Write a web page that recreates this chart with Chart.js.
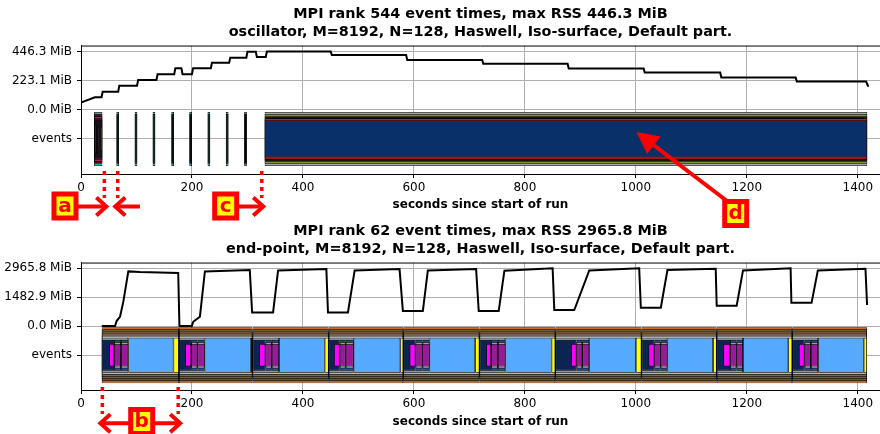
<!DOCTYPE html>
<html>
<head>
<meta charset="utf-8">
<script src="https://cdn.jsdelivr.net/npm/chart.js@4.4.1/dist/chart.umd.min.js"></script>
<style>
html, body { margin: 0; padding: 0; background: #fff; overflow: hidden; }
#wrap { position: relative; width: 880px; height: 434px; }
.panel { position: absolute; left: 0; width: 880px; height: 217px; }
#overlay { position: absolute; left: 0; top: 0; pointer-events: none; }
</style>
</head>
<body>
<div id="wrap">
  <div class="panel" style="top:0"><canvas id="c544" width="880" height="217"></canvas></div>
  <div class="panel" style="top:217px"><canvas id="c62" width="880" height="217"></canvas></div>
  <canvas id="overlay" width="880" height="434"></canvas>
</div>
<script>
// ---- rank 544 (oscillator) ----
var rss544 = 446.3;
var title544 = ['MPI rank 544 event times, max RSS 446.3 MiB',
                'oscillator, M=8192, N=128, Haswell, Iso-surface, Default part.'];
var tickVals544 = [-223.15, 0, 223.15, 446.3];
var tickLabels544 = ['events', '0.0 MiB', '223.1 MiB', '446.3 MiB'];
var memTime544 = [0,25,37,39,67,69,101,103,136,138,168,170,181,183,200,202,234,236,267,269,298,300,315,317,333,335,450,452,586,588,723,725,877,879,1014,1016,1152,1154,1288,1290,1415,1418,1420];
var memMiB544 = [55,96,96,138,138,184,184,227,227,272,272,317,317,272,272,317,317,360,360,398,398,444,444,403,403,446,446,418,418,380,380,351,351,315,315,285,285,247,247,217,217,184,184];
// events
var firstBlock544 = [23.6, 38.5];
var firstCols544 = [[24.5, 28.6], [29.5, 32.6], [34.4, 38.0]];
var colStart544 = [63.8, 96.7, 129.1, 162.8, 195.2, 228.1, 261.0, 294.1];
var colEnd544   = [68.6, 101.5, 133.9, 167.6, 200.0, 232.9, 265.8, 298.9];
var magStart544 = [65.4, 98.3, 130.7, 164.4, 196.8, 229.7, 262.6, 295.7];
var magEnd544   = [67.0, 99.9, 132.3, 166.0, 198.4, 231.3, 264.2, 297.3];
var bigBlock544 = [331, 1417];

// ---- rank 62 (end-point) ----
var rss62 = 2965.8;
var title62 = ['MPI rank 62 event times, max RSS 2965.8 MiB',
               'end-point, M=8192, N=128, Haswell, Iso-surface, Default part.'];
var tickVals62 = [-1482.9, 0, 1482.9, 2965.8];
var tickLabels62 = ['events', '0.0 MiB', '1482.9 MiB', '2965.8 MiB'];
var memTime62 = [37.4,61.4,64.4,70.3,76.3,85.3,106.3,175.2,177.4,199.9,202.2,214.3,217.3,223.3,304.2,308.4,346.2,355.2,442.2,445.1,481.1,493.2,574.1,580.1,616.1,625.1,712.1,716.8,752.8,763.1,850.0,853.0,889.0,916.0,1006.0,1009.0,1045.0,1056.9,1143.9,1145.7,1181.7,1193.1,1278.9,1280.3,1316.7,1328.0,1413.8,1416.7];
var memMiB62 = [20,20,280,485,1260,2810,2775,2723,15,20,230,490,1260,2810,2878,708,708,2862,2930,708,708,2862,2930,780,780,2862,2930,780,780,2847,2966,832,832,2862,2966,951,951,2878,2950,1054,1054,2862,2966,1209,1209,2862,2950,1090];
var cycleStart62  = [37.4, 176.5, 309.1, 446.4, 580.8, 718.1, 854.8, 1010.1, 1145.7, 1281.8];
var cycleEnd62    = [176.5, 309.1, 446.4, 580.8, 718.1, 854.8, 1010.1, 1145.7, 1281.8, 1416.7];
var magStart62    = [50.6, 187.8, 321.0, 455.9, 592.1, 730.1, 883.1, 1022.7, 1157.6, 1293.8];
var purpleStart62 = [59.6, 198.6, 332.5, 466.2, 602.9, 739.1, 893.1, 1033.5, 1169.7, 1304.1];
var purpleMid62   = [72.0, 209.8, 343.8, 477.0, 615.5, 751.3, 903.4, 1044.6, 1181.4, 1315.4];
var blueStart62   = [85.3, 222.7, 357.0, 491.4, 628.1, 764.9, 916.0, 1056.9, 1193.1, 1328.5];
var yellowStart62 = [166.6, 306.5, 439.2, 575.4, 710.3, 848.1, 1000.0, 1139.1, 1274.6, 1410.7];

var xTicks = [0, 200, 400, 600, 800, 1000, 1200, 1400];

// colours of the nested event rectangles (outer -> inner)
var firstColors544 = ['#20b2aa', '#5c0f0f', '#a02c5a', '#3b0a3b', '#141414'];
var colColors544 = ['#1a9a9a', '#0c1414'];
var bigColors544 = ['#a8a8a8', '#76983a', '#151515', '#d81818', '#0a3069'];
var outerColors62 = ['#d2691e', '#5b5b3b', '#8b5a2b', '#6f6f5f', '#b8b8b8'];

Chart.defaults.font.family = "'DejaVu Sans', sans-serif";
Chart.defaults.color = '#000';

function nest(list, s, e, colors, d0) {
    colors.forEach(function (c, i) { list.push({ s: s, e: e, d: (d0 || 0) + i, c: c }); });
}

var rects544 = [];
nest(rects544, firstBlock544[0], firstBlock544[1], firstColors544);
rects544.push({ s: firstCols544[0][0], e: firstCols544[0][1], d: 6, c: '#8b008b' });
rects544.push({ s: firstCols544[1][0], e: firstCols544[1][1], d: 7, c: '#f8f8f8' });
rects544.push({ s: firstCols544[2][0], e: firstCols544[2][1], d: 7, c: '#ff7f50' });
for (var i = 0; i < colStart544.length; i++) {
    nest(rects544, colStart544[i], colEnd544[i], colColors544);
    rects544.push({ s: magStart544[i], e: magEnd544[i], d: 2, c: '#ff00ff' });
}
nest(rects544, bigBlock544[0], bigBlock544[1], bigColors544);

var rects62 = [];
for (var j = 0; j < cycleStart62.length; j++) {
    nest(rects62, cycleStart62[j], cycleEnd62[j], outerColors62);
    rects62.push({ s: cycleStart62[j], e: blueStart62[j], d: 5, c: '#8c96a8' });
    rects62.push({ s: cycleStart62[j], e: purpleStart62[j], d: 6, c: '#0b2452' });
    rects62.push({ s: magStart62[j], e: purpleStart62[j], d: 8, c: '#ff00ff' });
    rects62.push({ s: purpleStart62[j], e: purpleMid62[j], d: 6, c: '#1d4a8a' });
    rects62.push({ s: purpleMid62[j], e: blueStart62[j], d: 6, c: '#1d4a8a' });
    rects62.push({ s: purpleStart62[j], e: purpleMid62[j], d: 7, c: '#a0a0a0' });
    rects62.push({ s: purpleMid62[j], e: blueStart62[j], d: 7, c: '#a0a0a0' });
    rects62.push({ s: purpleStart62[j], e: purpleMid62[j], d: 8, c: '#9b189b' });
    rects62.push({ s: purpleMid62[j], e: blueStart62[j], d: 8, c: '#9b189b' });
    rects62.push({ s: blueStart62[j], e: yellowStart62[j], d: 5, c: '#55aaff' });
    rects62.push({ s: yellowStart62[j], e: cycleEnd62[j], d: 5, c: '#ffff00' });
}

function eventSets(rects, rss, outerPx) {
    var sets = [];
    for (var d = 0; d <= 8; d++) {
        var pts = rects.filter(function (r) { return r.d === d; })
                       .map(function (r) { return { x: [r.s, r.e], y: -rss / 2, c: r.c }; });
        if (!pts.length) continue;
        sets.push({
            type: 'bar',
            indexAxis: 'y',
            data: pts,
            grouped: false,
            barThickness: outerPx - 4.2 * d,
            backgroundColor: function (ctx) { return ctx.raw ? ctx.raw.c : '#000'; },
            borderColor: '#000',
            borderWidth: 0.8,
            borderSkipped: false,
            inflateAmount: 0,
            order: 20 - d
        });
    }
    return sets;
}

var topSpine = {
    id: 'topSpine',
    afterDraw: function (chart) {
        var a = chart.chartArea, c = chart.ctx;
        c.save();
        c.strokeStyle = '#000';
        c.lineWidth = 1;
        c.beginPath();
        c.moveTo(a.left, a.top + 0.5);
        c.lineTo(a.right, a.top + 0.5);
        c.stroke();
        c.restore();
    }
};

function makeChart(id, title, memT, memV, rects, rss, tVals, tLabels, outerPx, xAxisH) {
    var line = {
        type: 'line',
        data: memT.map(function (t, k) { return { x: t, y: memV[k] }; }),
        borderColor: '#000',
        borderWidth: 2,
        pointRadius: 0,
        tension: 0,
        fill: false,
        order: 0
    };
    return new Chart(document.getElementById(id), {
        type: 'line',
        data: { datasets: [line].concat(eventSets(rects, rss, outerPx)) },
        options: {
            responsive: false,
            animation: false,
            layout: { padding: { left: 0, right: -1.3, top: 0, bottom: 0 } },
            plugins: {
                legend: { display: false },
                tooltip: { enabled: false },
                title: {
                    display: true,
                    fullSize: false,
                    text: title,
                    font: { size: 14.4, weight: 'bold' },
                    lineHeight: 1.15,
                    padding: { top: 6, bottom: 5 }
                }
            },
            scales: {
                x: {
                    type: 'linear',
                    min: 0,
                    max: 1440,
                    offset: false,
                    beginAtZero: false,
                    afterBuildTicks: function (s) { s.ticks = xTicks.map(function (v) { return { value: v }; }); },
                    afterFit: function (s) { s.height = xAxisH; },
                    ticks: {
                        font: { size: 12 },
                        padding: 3,
                        maxRotation: 0,
                        callback: function (v) { return String(v); }
                    },
                    grid: { color: '#b0b0b0', lineWidth: 1, tickColor: '#000', tickLength: 4, offset: false },
                    border: { color: '#000', width: 1 },
                    title: {
                        display: true,
                        text: 'seconds since start of run',
                        font: { size: 12, weight: 'bold' },
                        padding: { top: 2, bottom: 5 }
                    }
                },
                y: {
                    type: 'linear',
                    min: -1.1 * rss,
                    max: 1.1 * rss,
                    offset: false,
                    afterBuildTicks: function (s) { s.ticks = tVals.map(function (v) { return { value: v }; }); },
                    afterFit: function (s) { s.width = 81; },
                    ticks: {
                        font: { size: 12 },
                        padding: 5,
                        callback: function (v, k) { return tLabels[k]; }
                    },
                    grid: { color: '#b0b0b0', lineWidth: 1, tickColor: '#000', tickLength: 4, offset: false },
                    border: { color: '#000', width: 1 }
                }
            }
        },
        plugins: [topSpine]
    });
}

var chart544 = makeChart('c544', title544, memTime544, memMiB544, rects544, rss544, tickVals544, tickLabels544, 54, 43);
var chart62 = makeChart('c62', title62, memTime62, memMiB62, rects62, rss62, tickVals62, tickLabels62, 56, 44);

// ---- hand-drawn style markers on top of both charts ----
function dotted(o, x, y0, y1) {
    o.save();
    o.lineWidth = 3.5;
    o.setLineDash([4, 4]);
    o.beginPath();
    o.moveTo(x, y0);
    o.lineTo(x, y1);
    o.stroke();
    o.restore();
}

function arrow(o, x0, y0, x1, y1, hl, hw, filled) {
    var a = Math.atan2(y1 - y0, x1 - x0), ca = Math.cos(a), sa = Math.sin(a);
    o.save();
    o.lineWidth = 4;
    o.lineJoin = 'miter';
    o.beginPath();
    o.moveTo(x0, y0);
    o.lineTo(filled ? x1 - ca * hl * 0.8 : x1 - ca * 2, filled ? y1 - sa * hl * 0.8 : y1 - sa * 2);
    o.stroke();
    o.beginPath();
    o.moveTo(x1 - hl * ca + hw * sa, y1 - hl * sa - hw * ca);
    o.lineTo(x1, y1);
    o.lineTo(x1 - hl * ca - hw * sa, y1 - hl * sa + hw * ca);
    if (filled) { o.closePath(); o.fill(); } else { o.stroke(); }
    o.restore();
}

function letterBox(o, cx, cy, letter) {
    o.save();
    o.fillStyle = '#ff0000';
    o.fillRect(cx - 13.5, cy - 14.5, 27, 29);
    o.fillStyle = '#ffff00';
    o.fillRect(cx - 8.5, cy - 9.5, 17, 19);
    o.fillStyle = '#ff0000';
    o.font = "bold 20px 'DejaVu Sans'";
    o.textAlign = 'center';
    o.textBaseline = 'middle';
    o.fillText(letter, cx, cy + 0.5);
    o.restore();
}

(function () {
    var o = document.getElementById('overlay').getContext('2d');
    o.strokeStyle = '#ff0000';
    o.fillStyle = '#ff0000';
    var xa = chart544.scales.x, ya = chart544.scales.y, xb = chart62.scales.x, off = 217;

    // a: gap between first block and first column
    var a1 = xa.getPixelForValue(42.1), a2 = xa.getPixelForValue(66.2);
    dotted(o, a1, 171, 198);
    dotted(o, a2, 171, 198);
    arrow(o, 78, 206.5, a1 + 2, 206.5, 10, 9, false);
    arrow(o, 140, 206.5, a2 - 2.5, 206.5, 10, 9, false);
    letterBox(o, 65, 206, 'a');

    // c: start of the long phase
    var c1 = xa.getPixelForValue(325.8);
    dotted(o, c1, 171, 198);
    arrow(o, 238, 206.5, c1 + 1.5, 206.5, 10, 9, false);
    letterBox(o, 225.7, 206, 'c');

    // d: points into the long phase
    arrow(o, 727, 201, xa.getPixelForValue(1001), ya.getPixelForValue(-0.38 * rss544), 22, 11, true);
    letterBox(o, 735.7, 213.5, 'd');

    // b: one cycle of rank 62
    var b1 = xb.getPixelForValue(38.5), b2 = xb.getPixelForValue(175.2);
    dotted(o, b1, off + 170, off + 197);
    dotted(o, b2, off + 170, off + 197);
    arrow(o, 141, off + 206.3, b1 - 2, off + 206.3, 10, 9, false);
    arrow(o, 141, off + 206.3, b2 + 2, off + 206.3, 10, 9, false);
    letterBox(o, 141.7, off + 204.5, 'b');
})();
</script>
</body>
</html>
